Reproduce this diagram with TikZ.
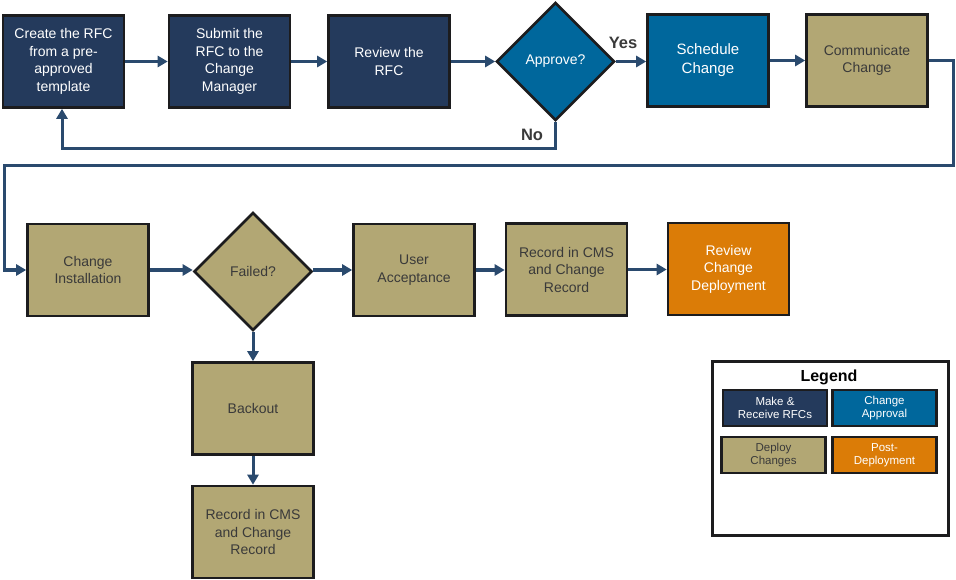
\documentclass[tikz,border=0pt]{standalone}
\usepackage{fontspec}
\setmainfont{Liberation Sans}
\usetikzlibrary{shapes.geometric,arrows.meta}
\definecolor{navy}{HTML}{243A5C}
\definecolor{cblue}{HTML}{00679C}
\definecolor{tan}{HTML}{B2A774}
\definecolor{orng}{HTML}{DB7C07}
\definecolor{conn}{HTML}{2A4A6E}
\definecolor{bord}{HTML}{1C1C1E}
\definecolor{dtext}{HTML}{3A3A3A}
\tikzset{
  box/.style={rectangle, draw=bord, line width=2.6pt, minimum width=121pt, minimum height=92pt,
    inner sep=1pt, align=center, font=\fontsize{14}{17.5}\selectfont},
  dia/.style={diamond, draw=bord, line width=2.6pt, minimum width=118pt, minimum height=118pt,
    aspect=1, inner sep=0pt, align=center, font=\fontsize{14}{17.5}\selectfont},
  navybox/.style={fill=navy, text=white},
  bluebox/.style={fill=cblue, text=white},
  tanbox/.style={fill=tan, text=dtext},
  orngbox/.style={fill=orng, text=white},
  lbox/.style={rectangle, draw=bord, line width=2.2pt, minimum width=104pt, minimum height=36pt,
    inner sep=1pt, align=center, font=\fontsize{11.5}{13.5}\selectfont},
  conn/.style={draw=conn, line width=3pt, -{Triangle[length=10pt,width=11pt]}},
  lbl/.style={font=\bfseries\fontsize{16.5}{19}\selectfont, text=dtext}
}
\begin{document}
\begin{tikzpicture}[x=1pt,y=-1pt]
\useasboundingbox (0,0) rectangle (956,580);
% top row
\node[box,navybox] (b1) at (63.5,61.5) {Create the RFC\\from a pre-\\approved\\template};
\node[box,navybox] (b2) at (229.5,61.5) {Submit the\\RFC to the\\Change\\Manager};
\node[box,navybox] (b3) at (389,61.5) {Review the\\RFC};
\node[dia,bluebox] (ap) at (555.5,61.5) {Approve?};
\node[box,bluebox,font=\fontsize{15}{19}\selectfont] (sc) at (708,60.5) {Schedule\\Change};
\node[box,tanbox] (cc) at (867,60.5) {Communicate\\Change};
% second row
\node[box,tanbox] (ci) at (88,270) {Change\\Installation};
\node[dia,tanbox] (fl) at (253,271.5) {Failed?};
\node[box,tanbox] (ua) at (414,270) {User\\Acceptance};
\node[box,tanbox] (rc) at (566.5,269.5) {Record in CMS\\and Change\\Record};
\node[box,orngbox] (rd) at (728.5,269) {Review\\Change\\Deployment};
% column
\node[box,tanbox] (bo) at (253,408.5) {Backout};
\node[box,tanbox] (r2) at (253,532) {Record in CMS\\and Change\\Record};
% labels
\node[lbl] (yes) at (623,43) {Yes};
\node[lbl] (no) at (532,135) {No};
% connectors
\draw[conn] (b1.east) -- (b2.west);
\draw[conn] (b2.east) -- (b3.west);
\draw[conn] (b3.east) -- (ap.west);
\draw[conn] (ap.east) -- (sc.west |- ap.east);
\draw[conn] (sc.east) -- (cc.west);
\coordinate (n1) at (555.5,149);
\coordinate (n2) at (62,149);
\draw[conn] (ap.south) -- (n1) -- (n2) -- (n2 |- b1.south);
\coordinate (r1) at (953,61);
\coordinate (r2c) at (953,166);
\coordinate (r3) at (4,166);
\draw[conn] (cc.east |- r1) -- (r1) -- (r2c) -- (r3) -- (r3 |- ci.west) -- (ci.west);
\draw[conn] (ci.east) -- (fl.west |- ci.east);
\draw[conn] (fl.east |- ua.west) -- (ua.west);
\draw[conn] (ua.east) -- (rc.west |- ua.east);
\draw[conn] (rc.east) -- (rd.west |- rc.east);
\draw[conn] (fl.south) -- (bo.north);
\draw[conn] (bo.south) -- (r2.north);
% legend
\node[rectangle, draw=bord, line width=3pt, minimum width=236pt, minimum height=174pt, fill=white] (lg) at (830,448) {};
\node[font=\bfseries\fontsize{16}{19}\selectfont, text=black] (lgt) at (829,377) {Legend};
\node[lbox,navybox] (l1) at (775,408) {Make \&\\Receive RFCs};
\node[lbox,bluebox] (l2) at (884.5,408) {Change\\Approval};
\node[lbox,tanbox] (l3) at (773.5,455) {Deploy\\Changes};
\node[lbox,orngbox] (l4) at (884.5,455) {Post-\\Deployment};
\end{tikzpicture}
\end{document}
